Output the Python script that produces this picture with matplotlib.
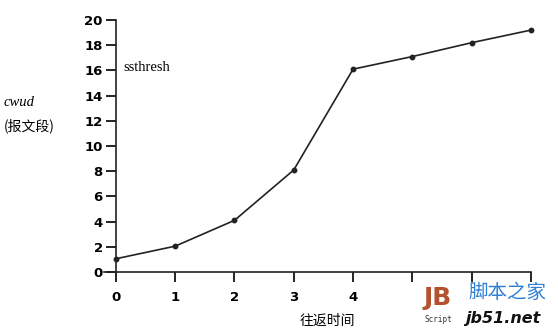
import matplotlib
matplotlib.use("Agg")
import matplotlib.pyplot as plt

# 慢启动 + 拥塞避免: cwnd 随往返时间变化
rtt = [0, 1, 2, 3, 4, 5, 6, 7]
cwnd = [1.05, 2.05, 4.1, 8.1, 16.1, 17.1, 18.2, 19.2]
xtick_labels = ['0', '1', '2', '3', '4', '', '', '']
yticks = [0, 2, 4, 6, 8, 10, 12, 14, 16, 18, 20]

plt.rcParams['font.family'] = ['Liberation Serif', 'Noto Sans CJK SC', 'DejaVu Sans']

fig = plt.figure(figsize=(5.58, 3.32), dpi=100)
ax = fig.add_axes([104/558, 60/332, 427/558, 252/332])

ax.plot(rtt, cwnd, color='#222222', lw=1.2, marker='o', ms=3.2, clip_on=False)

ax.set_xlim(-0.2, 7)
ax.set_ylim(0, 20)
ax.spines['left'].set_position(('data', 0))
ax.spines['top'].set_visible(False)
ax.spines['right'].set_visible(False)
for s in ['left', 'bottom']:
    ax.spines[s].set_linewidth(1.2)
    ax.spines[s].set_color('#222222')

ax.set_xticks(rtt)
ax.set_xticklabels(xtick_labels)
ax.set_yticks(yticks)
ax.tick_params(axis='x', direction='out', length=7.5, width=1.2, pad=6, labelsize=9.5)
ax.tick_params(axis='y', direction='out', length=7.5, width=1.2, pad=2, labelsize=9.5)
for lab in ax.get_xticklabels() + ax.get_yticklabels():
    lab.set_fontweight('bold')
    lab.set_family(['DejaVu Sans'])

ax.text(0.12, 16.2, 'ssthresh', fontsize=10.5, va='center', ha='left')
fig.text(4/558, 1 - 102/332, 'cwud', fontsize=10.5, style='italic', va='center', ha='left')
fig.text(4/558, 1 - 126/332, '(报文段)', fontsize=10, va='center', ha='left',
         family=['Noto Sans CJK SC', 'DejaVu Sans'])
fig.text(327/558, 1 - 321/332, '往返时间', fontsize=10, va='center', ha='center',
         family=['Noto Sans CJK SC', 'DejaVu Sans'])

# 水印
fig.text(438/558, 1 - 298/332, 'JB', fontsize=18, fontweight='bold', color='#b5512f',
         va='center', ha='center', family=['DejaVu Sans'])
fig.text(438/558, 1 - 319/332, 'Script', fontsize=5.5, color='#333333',
         va='center', ha='center', family=['DejaVu Sans Mono'])
fig.text(468/558, 1 - 292/332, '脚本之家', fontsize=14, color='#2f7fd6',
         va='center', ha='left', family=['Noto Sans CJK SC', 'DejaVu Sans'])
fig.text(465/558, 1 - 319/332, 'jb51.net', fontsize=11.5, color='#111111', style='italic',
         fontweight='bold', va='center', ha='left', family=['DejaVu Sans'])

fig.savefig('out.png', dpi=100)
